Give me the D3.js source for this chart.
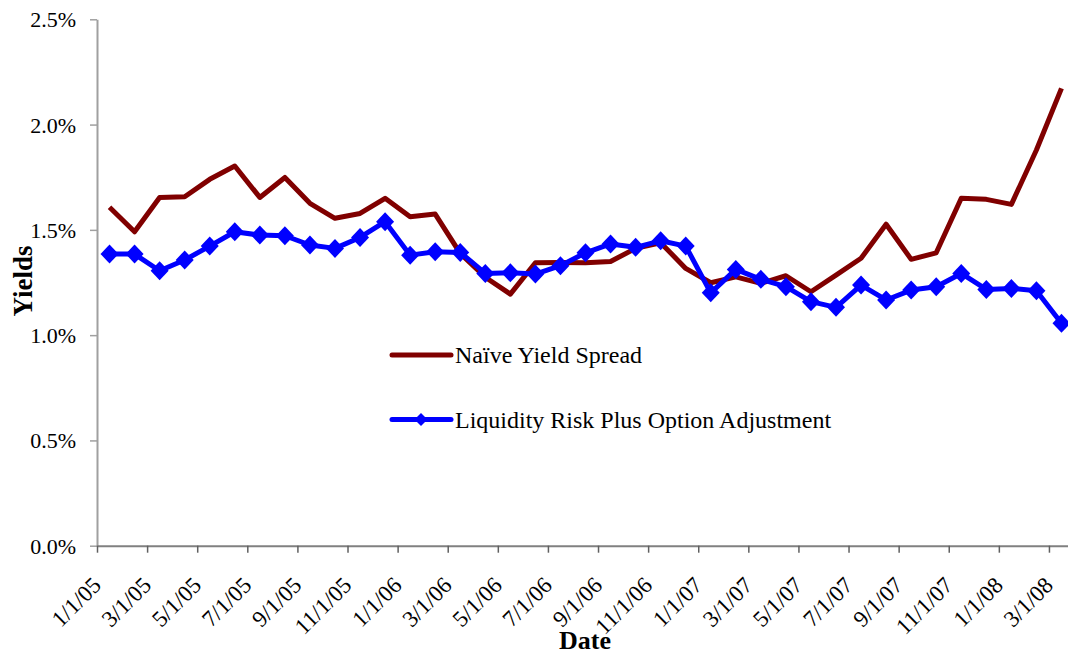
<!DOCTYPE html>
<html>
<head>
<meta charset="utf-8">
<script src="https://cdn.jsdelivr.net/npm/d3@7"></script>
<style>
  body { margin: 0; background: #fff; }
  text { font-family: "Liberation Serif", "Times New Roman", serif; }
</style>
</head>
<body>
<div id="chart"></div>
<script>
// monthly observations, Jan 2005 .. Mar 2008
var months = ["1/05","2/05","3/05","4/05","5/05","6/05","7/05","8/05","9/05","10/05","11/05","12/05",
              "1/06","2/06","3/06","4/06","5/06","6/06","7/06","8/06","9/06","10/06","11/06","12/06",
              "1/07","2/07","3/07","4/07","5/07","6/07","7/07","8/07","9/07","10/07","11/07","12/07",
              "1/08","2/08","3/08"];

var naive = [1.607, 1.491, 1.654, 1.657, 1.740, 1.803, 1.654, 1.749, 1.626, 1.555, 1.578, 1.650,
             1.562, 1.575, 1.388, 1.275, 1.195, 1.344, 1.345, 1.344, 1.350, 1.412, 1.439, 1.317,
             1.249, 1.277, 1.246, 1.282, 1.206, 1.285, 1.365, 1.527, 1.360, 1.391, 1.650, 1.645,
             1.621, 1.879, 2.172];

var liquidity = [1.385, 1.385, 1.306, 1.357, 1.423, 1.491, 1.475, 1.472, 1.428, 1.412, 1.464, 1.539,
                 1.380, 1.396, 1.393, 1.293, 1.296, 1.290, 1.330, 1.391, 1.433, 1.417, 1.448, 1.423,
                 1.201, 1.312, 1.265, 1.230, 1.159, 1.132, 1.238, 1.167, 1.214, 1.230, 1.293, 1.217,
                 1.222, 1.211, 1.056];

var tickLabels = ["1/1/05","3/1/05","5/1/05","7/1/05","9/1/05","11/1/05",
                  "1/1/06","3/1/06","5/1/06","7/1/06","9/1/06","11/1/06",
                  "1/1/07","3/1/07","5/1/07","7/1/07","9/1/07","11/1/07",
                  "1/1/08","3/1/08"];
var tickIndex = tickLabels.map(function(d, i) { return i * 2; });

var yTicks = [0, 0.5, 1.0, 1.5, 2.0, 2.5];

var width = 1068, height = 655;
var plotLeft = 97, plotRight = 1074, plotTop = 19.3, plotBottom = 545.7;

var svg = d3.select("#chart").append("svg")
    .attr("width", width)
    .attr("height", height);

// category axis: index scale, points sit in the middle of each month slot
var x = d3.scaleLinear().domain([0, months.length]).range([plotLeft, plotRight]);
var y = d3.scaleLinear().domain([0, 2.5]).range([plotBottom, plotTop]);

// y axis
var yAxis = svg.append("g")
    .attr("transform", "translate(" + plotLeft + ",0)")
    .call(d3.axisLeft(y)
        .tickValues(yTicks)
        .tickFormat(function(d) { return d3.format(".1f")(d) + "%"; })
        .tickSize(7)
        .tickSizeOuter(0)
        .tickPadding(14));
yAxis.select(".domain").attr("stroke", "#a0a0a0").attr("stroke-width", 2);
yAxis.selectAll(".tick line").attr("stroke", "#a0a0a0").attr("stroke-width", 1.5);
yAxis.selectAll(".tick text")
    .attr("font-size", 22)
    .attr("font-family", "Liberation Serif")
    .attr("fill", "#000")
    .attr("dy", "0.34em");

// x axis
var xAxis = svg.append("g")
    .attr("transform", "translate(0," + plotBottom + ")")
    .call(d3.axisBottom(x)
        .tickValues(tickIndex)
        .tickFormat(function(d, i) { return tickLabels[i]; })
        .tickSize(7)
        .tickSizeOuter(0));
xAxis.select(".domain").attr("stroke", "#808080").attr("stroke-width", 2);
xAxis.selectAll(".tick line").attr("stroke", "#606060").attr("stroke-width", 1.5);
xAxis.selectAll(".tick text")
    .attr("font-size", 23)
    .attr("font-family", "Liberation Serif")
    .attr("fill", "#000")
    .attr("x", 0)
    .attr("y", 0)
    .attr("dy", 0)
    .attr("text-anchor", "end")
    .attr("transform", "translate(5,41) rotate(-45)");

// axis titles
svg.append("text")
    .attr("x", 585)
    .attr("y", 649)
    .attr("text-anchor", "middle")
    .attr("font-size", 26)
    .attr("font-weight", "bold")
    .text("Date");

svg.append("text")
    .attr("transform", "translate(32,281) rotate(-90)")
    .attr("text-anchor", "middle")
    .attr("font-size", 27)
    .attr("font-weight", "bold")
    .text("Yields");

var line = d3.line()
    .x(function(d, i) { return x(i + 0.5); })
    .y(function(d) { return y(d); });

svg.append("path")
    .datum(naive)
    .attr("fill", "none")
    .attr("stroke", "#800000")
    .attr("stroke-width", 5)
    .attr("stroke-linejoin", "round")
    .attr("d", line);

svg.append("path")
    .datum(liquidity)
    .attr("fill", "none")
    .attr("stroke", "#0000ff")
    .attr("stroke-width", 5)
    .attr("stroke-linejoin", "round")
    .attr("d", line);

var diamond = "M0,-9.5L9,0L0,9.5L-9,0Z";

svg.append("g").selectAll("path")
    .data(liquidity)
    .enter().append("path")
    .attr("d", diamond)
    .attr("fill", "#0000ff")
    .attr("transform", function(d, i) {
        return "translate(" + x(i + 0.5) + "," + y(d) + ")";
    });

// legend
var legend = svg.append("g");

legend.append("line")
    .attr("x1", 392).attr("x2", 451)
    .attr("y1", 355).attr("y2", 355)
    .attr("stroke", "#800000")
    .attr("stroke-width", 5)
    .attr("stroke-linecap", "round");
legend.append("text")
    .attr("x", 455)
    .attr("y", 363)
    .attr("font-size", 24)
    .text("Naïve Yield Spread");

legend.append("line")
    .attr("x1", 392).attr("x2", 451)
    .attr("y1", 419.5).attr("y2", 419.5)
    .attr("stroke", "#0000ff")
    .attr("stroke-width", 5)
    .attr("stroke-linecap", "round");
legend.append("path")
    .attr("d", "M0,-6.5L6.5,0L0,6.5L-6.5,0Z")
    .attr("fill", "#0000ff")
    .attr("transform", "translate(421,419.5)");
legend.append("text")
    .attr("x", 455)
    .attr("y", 428)
    .attr("font-size", 24)
    .text("Liquidity Risk Plus Option Adjustment");
</script>
</body>
</html>
